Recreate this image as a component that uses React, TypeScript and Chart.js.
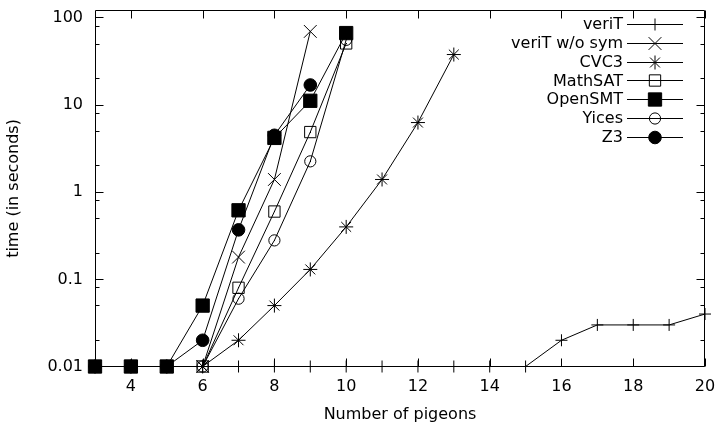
import React, { useEffect, useRef } from 'react';
import { Chart, registerables } from 'chart.js';
import { drawPoint } from 'chart.js/helpers';

Chart.register(...registerables);

// ---- data ----
const pigeonsVeriT = [3, 4, 5, 6, 7, 8, 9, 10, 11, 12, 13, 14, 15, 16, 17, 18, 19, 20];
const veriT = [0.01, 0.01, 0.01, 0.01, 0.01, 0.01, 0.01, 0.01, 0.01, 0.01, 0.01, 0.01, 0.01, 0.02, 0.03, 0.03, 0.03, 0.04];
const pigeonsVeriTNoSym = [3, 4, 5, 6, 7, 8, 9];
const veriTNoSym = [0.01, 0.01, 0.01, 0.01, 0.18, 1.4, 70];
const pigeonsCVC3 = [3, 4, 5, 6, 7, 8, 9, 10, 11, 12, 13];
const cvc3 = [0.01, 0.01, 0.01, 0.01, 0.02, 0.05, 0.13, 0.4, 1.4, 6.3, 38];
const pigeonsMathSAT = [3, 4, 5, 6, 7, 8, 9, 10];
const mathSAT = [0.01, 0.01, 0.01, 0.01, 0.08, 0.6, 4.9, 51];
const pigeonsOpenSMT = [3, 4, 5, 6, 7, 8, 9, 10];
const openSMT = [0.01, 0.01, 0.01, 0.05, 0.62, 4.2, 11.2, 67];
const pigeonsYices = [3, 4, 5, 6, 7, 8, 9, 10];
const yices = [0.01, 0.01, 0.01, 0.01, 0.06, 0.28, 2.26, 56];
const pigeonsZ3 = [3, 4, 5, 6, 7, 8, 9];
const z3 = [0.01, 0.01, 0.01, 0.02, 0.37, 4.5, 17];

const seriesNames = ['veriT', 'veriT w/o sym', 'CVC3', 'MathSAT', 'OpenSMT', 'Yices', 'Z3'];
const xTicks = [4, 6, 8, 10, 12, 14, 16, 18, 20];
const yTicks = [0.01, 0.1, 1, 10, 100];
const yTickLabels = ['0.01', '0.1', '1', '10', '100'];
const yMinorFactors = [2, 5, 8];

const FONT = 'DejaVu Sans';
const FS = 16;

type Marker = { style: string; radius: number; filled: boolean; dot: boolean };
const markers: Marker[] = [
  { style: 'cross', radius: 6, filled: false, dot: false },
  { style: 'crossRot', radius: 9, filled: false, dot: false },
  { style: 'star', radius: 7, filled: false, dot: false },
  { style: 'rect', radius: 8, filled: false, dot: true },
  { style: 'rect', radius: 9.4, filled: true, dot: false },
  { style: 'circle', radius: 5.6, filled: false, dot: true },
  { style: 'circle', radius: 6.3, filled: true, dot: false },
];

const xs = [pigeonsVeriT, pigeonsVeriTNoSym, pigeonsCVC3, pigeonsMathSAT, pigeonsOpenSMT, pigeonsYices, pigeonsZ3];
const ys = [veriT, veriTNoSym, cvc3, mathSAT, openSMT, yices, z3];

const framePlugin = {
  id: 'gnuplotFrame',
  beforeDatasetsDraw(chart: any) {
    const { ctx, chartArea } = chart;
    const { left, right, top, bottom } = chartArea;
    const xsc = chart.scales.x;
    const ysc = chart.scales.y;
    ctx.save();
    ctx.strokeStyle = '#000';
    ctx.lineWidth = 1;
    const L = Math.floor(left) + 0.5;
    const R = Math.round(right) - 0.5;
    const T = Math.floor(top) + 0.5;
    const B = Math.floor(bottom) + 0.5;
    ctx.beginPath();
    ctx.rect(L, T, R - L, B - T);
    ctx.stroke();
    ctx.beginPath();
    const yMax = ysc.max;
    for (const major of yTicks) {
      const py = Math.floor(ysc.getPixelForValue(major)) + 0.5;
      ctx.moveTo(L, py); ctx.lineTo(L + 8, py);
      ctx.moveTo(R, py); ctx.lineTo(R - 8, py);
      for (const f of yMinorFactors) {
        const v = major * f;
        if (v > yMax) continue;
        const pm = Math.floor(ysc.getPixelForValue(v)) + 0.5;
        ctx.moveTo(L, pm); ctx.lineTo(L + 4, pm);
        ctx.moveTo(R, pm); ctx.lineTo(R - 4, pm);
      }
    }
    for (const t of xTicks) {
      const px = Math.round(xsc.getPixelForValue(t)) + 0.5;
      ctx.moveTo(px, B); ctx.lineTo(px, B - 8);
      ctx.moveTo(px, T); ctx.lineTo(px, T + 8);
    }
    ctx.stroke();
    ctx.restore();
  },
  afterDatasetsDraw(chart: any) {
    const { ctx } = chart;
    ctx.save();
    ctx.fillStyle = '#000';
    chart.data.datasets.forEach((_ds: any, i: number) => {
      if (!markers[i].dot) return;
      const meta = chart.getDatasetMeta(i);
      meta.data.forEach((el: any) => {
        ctx.fillRect(Math.floor(el.x), Math.floor(el.y), 1, 1);
      });
    });
    ctx.restore();
  },
  afterDraw(chart: any) {
    const { ctx } = chart;
    ctx.save();
    ctx.font = `${FS}px "${FONT}"`;
    ctx.textAlign = 'right';
    ctx.textBaseline = 'middle';
    const textRight = 623;
    const lineL = 627;
    const lineR = 683;
    const cx = 655;
    seriesNames.forEach((name, i) => {
      const y = 24 + i * 18.8;
      ctx.fillStyle = '#000';
      ctx.fillText(name, textRight, y + 1);
      ctx.strokeStyle = '#000';
      ctx.lineWidth = 1;
      const ly = Math.round(y) + 0.5;
      ctx.beginPath();
      ctx.moveTo(lineL, ly);
      ctx.lineTo(lineR, ly);
      ctx.stroke();
      const m = markers[i];
      ctx.fillStyle = m.filled ? '#000' : 'rgba(0,0,0,0)';
      drawPoint(ctx, { pointStyle: m.style as any, radius: m.radius, borderWidth: 1, rotation: 0 } as any, cx, ly);
      if (m.dot) {
        ctx.fillStyle = '#000';
        ctx.fillRect(cx - 0.5, ly - 0.5, 1, 1);
      }
    });
    ctx.restore();
  },
};

export default function App() {
  const ref = useRef<HTMLCanvasElement | null>(null);
  useEffect(() => {
    document.body.style.margin = '0';
    const canvas = ref.current!;
    Chart.defaults.font.family = FONT;
    Chart.defaults.font.size = FS;
    Chart.defaults.color = '#000';
    const datasets = seriesNames.map((name, i) => ({
      label: name,
      data: xs[i].map((x, j) => ({ x, y: ys[i][j] })),
      borderColor: '#000',
      borderWidth: 1,
      backgroundColor: markers[i].filled ? '#000' : 'rgba(0,0,0,0)',
      pointStyle: markers[i].style,
      pointRadius: markers[i].radius,
      pointHoverRadius: markers[i].radius,
      pointBorderColor: '#000',
      pointBackgroundColor: markers[i].filled ? '#000' : 'rgba(0,0,0,0)',
      pointBorderWidth: 1,
      showLine: true,
      fill: false,
      tension: 0,
      clip: false,
      order: seriesNames.length - i,
    }));
    const chart = new Chart(canvas, {
      type: 'scatter',
      data: { datasets } as any,
      plugins: [framePlugin],
      options: {
        animation: false,
        responsive: false,
        devicePixelRatio: 1,
        layout: { padding: { top: 5, right: 12, left: 0, bottom: 0 } },
        plugins: { legend: { display: false }, tooltip: { enabled: false } },
        events: [],
        scales: {
          x: {
            type: 'linear',
            min: 3,
            max: 20,
            grid: { display: false, drawTicks: false },
            border: { display: false },
            afterBuildTicks: (scale: any) => {
              scale.ticks = xTicks.map((v) => ({ value: v }));
            },
            afterFit: (scale: any) => {
              scale.height = 58.5;
              scale.paddingLeft = 0;
              scale.paddingRight = 0;
            },
            ticks: {
              autoSkip: false,
              maxRotation: 0,
              padding: 11,
              color: '#000',
              font: { family: FONT, size: FS },
              callback: (v: any) => String(v),
            },
            title: {
              display: true,
              text: 'Number of pigeons',
              color: '#000',
              font: { family: FONT, size: FS },
              padding: { top: 0, bottom: 1 },
            },
          },
          y: {
            type: 'logarithmic',
            min: 0.01,
            max: 122,
            grid: { display: false, drawTicks: false },
            border: { display: false },
            afterBuildTicks: (scale: any) => {
              scale.ticks = yTicks.map((v) => ({ value: v }));
            },
            afterFit: (scale: any) => {
              scale.width = 95;
              scale.paddingTop = 0;
              scale.paddingBottom = 0;
            },
            ticks: {
              autoSkip: false,
              padding: 12,
              color: '#000',
              font: { family: FONT, size: FS },
              callback: (_v: any, idx: number) => yTickLabels[idx],
            },
            title: {
              display: true,
              text: 'time (in seconds)',
              color: '#000',
              font: { family: FONT, size: FS },
              padding: { top: 4, bottom: 0 },
            },
          },
        },
      } as any,
    });
    return () => chart.destroy();
  }, []);
  return <canvas ref={ref} width={717} height={425} style={{ display: 'block' }} />;
}
